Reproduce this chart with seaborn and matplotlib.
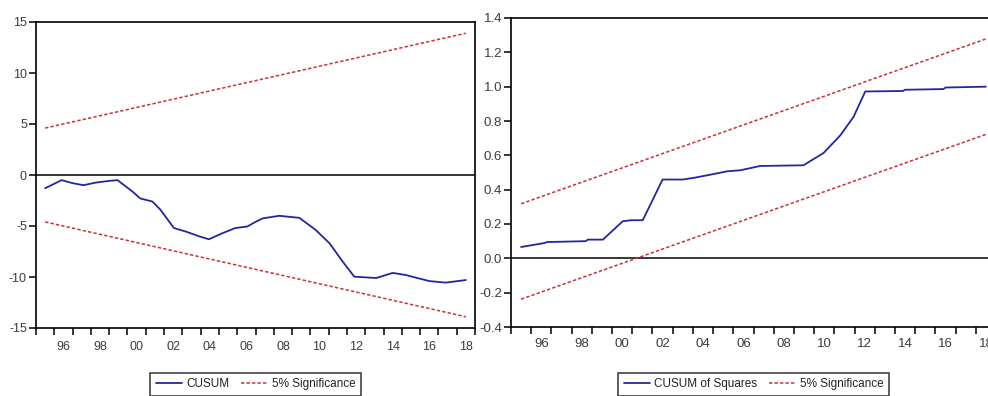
import matplotlib
matplotlib.use("Agg")
import matplotlib.pyplot as plt
import seaborn as sns
import pandas as pd
from matplotlib.lines import Line2D

# CUSUM (left panel)
cusum_t = [1995.0, 1995.9, 1996.5, 1997.1, 1997.75, 1998.4, 1998.95, 1999.76, 2000.2,
           2000.86, 2001.3, 2002.04, 2002.7, 2003.4, 2003.95, 2004.7, 2005.4, 2006.05,
           2006.5, 2006.9, 2007.8, 2008.9, 2009.8, 2010.55, 2011.27, 2011.9, 2013.1,
           2014.0, 2014.7, 2016.0, 2016.9, 2018.0]
cusum_v = [-1.3, -0.5, -0.8, -1.0, -0.75, -0.6, -0.5, -1.6, -2.3,
           -2.6, -3.4, -5.2, -5.55, -6.0, -6.3, -5.7, -5.2, -5.05,
           -4.6, -4.25, -4.0, -4.2, -5.4, -6.7, -8.5, -9.97, -10.1,
           -9.6, -9.8, -10.4, -10.55, -10.3]
cusum_band_t = [1995.0, 2018.0]
cusum_upper = [4.6, 13.9]
cusum_lower = [-4.6, -13.9]

# CUSUM of squares (right panel)
sq_t = [1995.0, 1995.5, 1996.15, 1996.3, 1998.2, 1998.3, 1999.05, 1999.45, 2000.03,
        2000.45, 2001.02, 2002.0, 2003.0, 2003.6, 2004.4, 2005.2, 2005.85, 2006.83,
        2008.97, 2009.97, 2010.8, 2011.45, 2012.03, 2013.9, 2014.0, 2015.9, 2016.0, 2018.0]
sq_v = [0.066, 0.076, 0.089, 0.095, 0.10, 0.109, 0.109, 0.153, 0.216,
        0.222, 0.222, 0.459, 0.459, 0.47, 0.488, 0.507, 0.513, 0.538,
        0.542, 0.614, 0.717, 0.824, 0.972, 0.975, 0.982, 0.986, 0.995, 1.0]
sq_band_t = [1995.0, 2018.0]
sq_upper = [0.318, 1.278]
sq_lower = [-0.238, 0.722]

year_labels = list(range(1996, 2019, 2))

sns.set_theme(style="white")
plt.rcParams['font.family'] = ['Liberation Sans', 'DejaVu Sans']

BLUE = "#26269a"
RED = "#c8323c"
DASH = (0, (2.2, 1.4))
TXT = "#3c3c3c"

fig = plt.figure(figsize=(9.88, 3.96), dpi=100)
ax1 = fig.add_axes([36 / 988, 1 - 328 / 396, 439 / 988, 306 / 396])
ax2 = fig.add_axes([511 / 988, 1 - 327 / 396, 485 / 988, 309 / 396])


def style_axes(ax, yticks, yfmt, fsize, xpad):
    ax.set_xlim(1994.5, 2018.5)
    ax.axhline(0, color="black", lw=1.1, zorder=1)
    ax.set_xticks([1994.5 + k for k in range(25)])
    ax.set_xticklabels([])
    ax.set_xticks(year_labels, minor=True)
    ax.set_xticklabels([f"{y % 100:02d}" for y in year_labels], minor=True)
    ax.tick_params(axis="x", which="major", direction="out", length=5, width=1.1,
                   color="black", bottom=True)
    ax.tick_params(axis="x", which="minor", length=0, pad=xpad, labelsize=fsize,
                   labelcolor=TXT, bottom=True)
    ax.set_yticks(yticks)
    ax.set_yticklabels([yfmt(v) for v in yticks])
    ax.tick_params(axis="y", direction="out", length=5, width=1.1, color="black",
                   left=True, pad=1.5, labelsize=fsize, labelcolor=TXT)
    for s in ax.spines.values():
        s.set_color("black")
        s.set_linewidth(1.2)
    ax.set_xlabel("")
    ax.set_ylabel("")


# left: CUSUM
sns.lineplot(x=cusum_t, y=cusum_v, ax=ax1, color=BLUE, lw=1.3, sort=False)
sns.lineplot(x=cusum_band_t, y=cusum_upper, ax=ax1, color=RED, lw=1.1, linestyle=DASH)
sns.lineplot(x=cusum_band_t, y=cusum_lower, ax=ax1, color=RED, lw=1.1, linestyle=DASH)
ax1.set_ylim(-15, 15)
style_axes(ax1, [-15, -10, -5, 0, 5, 10, 15], lambda v: f"{v:d}", 9, 9)

# right: CUSUM of squares
sns.lineplot(x=sq_t, y=sq_v, ax=ax2, color=BLUE, lw=1.3, sort=False)
sns.lineplot(x=sq_band_t, y=sq_upper, ax=ax2, color=RED, lw=1.1, linestyle=DASH)
sns.lineplot(x=sq_band_t, y=sq_lower, ax=ax2, color=RED, lw=1.1, linestyle=DASH)
ax2.set_ylim(-0.4, 1.4)
style_axes(ax2, [-0.4, -0.2, 0.0, 0.2, 0.4, 0.6, 0.8, 1.0, 1.2, 1.4],
           lambda v: f"{v:.1f}", 9.5, 8)


def add_legend(ax, first_label, yoff):
    handles = [Line2D([], [], color=BLUE, lw=1.3),
               Line2D([], [], color=RED, lw=1.1, linestyle=DASH)]
    leg = ax.legend(handles, [first_label, "5% Significance"], ncol=2,
                    loc="upper center", bbox_to_anchor=(0.5, yoff), fontsize=8.5,
                    frameon=True, fancybox=False, shadow=False, handlelength=2.2,
                    handletextpad=0.4, columnspacing=1.0, borderpad=0.45,
                    borderaxespad=0)
    leg.get_frame().set_edgecolor("black")
    leg.get_frame().set_linewidth(1.1)
    for t in leg.get_texts():
        t.set_color("#222222")


add_legend(ax1, "CUSUM", -0.147)
add_legend(ax2, "CUSUM of Squares", -0.149)

fig.savefig("out.png", dpi=100)
